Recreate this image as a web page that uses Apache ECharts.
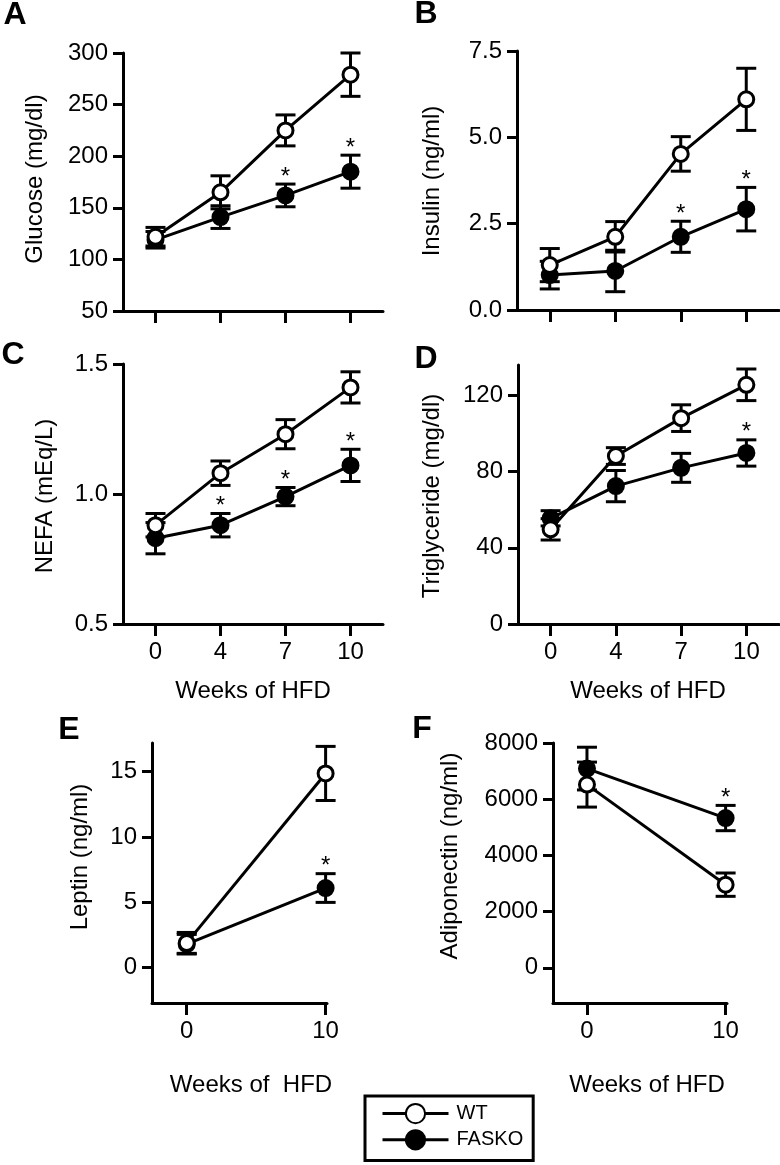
<!DOCTYPE html>
<html><head><meta charset="utf-8">
<script src="https://cdn.jsdelivr.net/npm/echarts@6/dist/echarts.min.js"></script>
<style>html,body{margin:0;padding:0;background:#fff}#c{width:780px;height:1165px}</style>
</head><body><div id="c"></div>
<script>
// ---- data ----
const weeks4 = ['0', '4', '7', '10'];
const weeks2 = [0, 10];
const seriesNames = ['WT', 'FASKO'];

const glucoseWT = [122, 165, 225, 279];
const glucoseWTErr = [9, 16, 15, 21];
const glucoseKO = [119, 141, 162, 185];
const glucoseKOErr = [8, 11, 11, 16];
const glucoseSig = [false, false, true, true];

const insulinWT = [1.30, 2.12, 4.52, 6.10];
const insulinWTErr = [0.48, 0.44, 0.50, 0.90];
const insulinKO = [1.01, 1.13, 2.12, 2.92];
const insulinKOErr = [0.40, 0.60, 0.45, 0.63];
const insulinSig = [false, false, true, true];

const nefaWT = [0.88, 1.08, 1.23, 1.41];
const nefaWTErr = [0.045, 0.047, 0.056, 0.06];
const nefaKO = [0.83, 0.88, 0.99, 1.11];
const nefaKOErr = [0.06, 0.045, 0.035, 0.062];
const nefaSig = [false, true, true, true];

const tgWT = [49.7, 88.2, 108.1, 125.6];
const tgWTErr = [5.6, 4.4, 7.0, 8.3];
const tgKO = [55.5, 72.4, 82.0, 89.8];
const tgKOErr = [4.0, 8.2, 7.6, 6.9];
const tgSig = [false, false, false, true];

const leptinWT = [1.9, 14.87];
const leptinWTErr = [0.8, 2.07];
const leptinKO = [1.8, 6.1];
const leptinKOErr = [0.75, 1.1];
const leptinSig = [false, true];

const adipoWT = [6520, 2960];
const adipoWTErr = [800, 415];
const adipoKO = [7090, 5330];
const adipoKOErr = [760, 450];
const adipoSig = [false, true];

const yTicksD = [0, 40, 80, 120];
const yTicksE = [0, 5, 10, 15];
const yTicksF = [0, 2000, 4000, 6000, 8000];

// ---- styling ----
const FONT = 'Liberation Sans, Arial, Helvetica, sans-serif';
const BLACK = '#000';
const FS = 24;

function axisLineStyle() { return { show: true, onZero: false, lineStyle: { color: BLACK, width: 3 } }; }

function catX(gi, showLabels) {
  return {
    type: 'category', gridIndex: gi, data: weeks4, boundaryGap: true,
    axisLine: axisLineStyle(),
    axisTick: { show: true, alignWithLabel: true, length: 12, interval: 0, lineStyle: { color: BLACK, width: 3 } },
    axisLabel: { show: showLabels, interval: 0, color: BLACK, fontSize: FS, fontFamily: FONT, margin: 16 },
    splitLine: { show: false }
  };
}
function valX(gi, min, max) {
  return {
    type: 'value', gridIndex: gi, min: min, max: max,
    axisLine: axisLineStyle(),
    axisTick: { show: true, length: 12, customValues: weeks2, lineStyle: { color: BLACK, width: 3 } },
    axisLabel: { customValues: weeks2, color: BLACK, fontSize: FS, fontFamily: FONT, margin: 16 },
    splitLine: { show: false }
  };
}
function valY(gi, min, max, interval, fmt, custom) {
  const ax = {
    type: 'value', gridIndex: gi, min: min, max: max,
    axisLine: axisLineStyle(),
    axisTick: { show: true, length: 10, lineStyle: { color: BLACK, width: 3 } },
    axisLabel: { color: BLACK, fontSize: FS, fontFamily: FONT, margin: 15, formatter: fmt || (v => String(v)) },
    splitLine: { show: false }
  };
  if (interval) ax.interval = interval;
  if (custom) { ax.axisTick.customValues = custom; ax.axisLabel.customValues = custom; }
  return ax;
}

const series = [];
function addPanel(gi, isCat, wt, wtErr, ko, koErr, sig) {
  const xs = isCat ? wt.map((_, i) => i) : weeks2;
  const errSeries = (name, vals, errs, z) => ({
    type: 'custom', name: name + ' err', xAxisIndex: gi, yAxisIndex: gi, z: z, silent: true,
    data: xs.map((x, i) => [x, vals[i], errs[i]]),
    renderItem: function (params, api) {
      const x = api.value(0), m = api.value(1), e = api.value(2);
      const t = api.coord([x, m + e]);
      const b = api.coord([x, m - e]);
      const hw = 10;
      const st = { stroke: BLACK, lineWidth: 3 };
      return { type: 'group', children: [
        { type: 'line', shape: { x1: t[0], y1: t[1], x2: b[0], y2: b[1] }, style: st },
        { type: 'line', shape: { x1: t[0] - hw, y1: t[1], x2: t[0] + hw, y2: t[1] }, style: st },
        { type: 'line', shape: { x1: b[0] - hw, y1: b[1], x2: b[0] + hw, y2: b[1] }, style: st }
      ] };
    }
  });
  const lineSeries = (name, vals, fill, z) => ({
    type: 'line', name: name, xAxisIndex: gi, yAxisIndex: gi, z: z,
    data: isCat ? vals.slice() : xs.map((x, i) => [x, vals[i]]),
    symbol: 'circle', symbolSize: 15, showAllSymbol: true,
    lineStyle: { color: BLACK, width: 3 },
    itemStyle: { color: fill, borderColor: BLACK, borderWidth: 3 },
    emphasis: { disabled: true }, animation: false
  });
  series.push(errSeries('FASKO', ko, koErr, 2));
  series.push(lineSeries('FASKO', ko, BLACK, 3));
  series.push(errSeries('WT', wt, wtErr, 4));
  series.push(lineSeries('WT', wt, '#fff', 5));
  const sigData = [];
  xs.forEach((x, i) => { if (sig[i]) sigData.push([x, ko[i] + koErr[i]]); });
  series.push({
    type: 'custom', name: 'sig', xAxisIndex: gi, yAxisIndex: gi, z: 6, silent: true,
    data: sigData,
    renderItem: function (params, api) {
      const p = api.coord([api.value(0), api.value(1)]);
      return { type: 'text', x: p[0], y: p[1] - 7,
        style: { text: '*', fill: BLACK, font: '24px ' + FONT, align: 'center', verticalAlign: 'middle' } };
    }
  });
}

addPanel(0, true, glucoseWT, glucoseWTErr, glucoseKO, glucoseKOErr, glucoseSig);
addPanel(1, true, insulinWT, insulinWTErr, insulinKO, insulinKOErr, insulinSig);
addPanel(2, true, nefaWT, nefaWTErr, nefaKO, nefaKOErr, nefaSig);
addPanel(3, true, tgWT, tgWTErr, tgKO, tgKOErr, tgSig);
addPanel(4, false, leptinWT, leptinWTErr, leptinKO, leptinKOErr, leptinSig);
addPanel(5, false, adipoWT, adipoWTErr, adipoKO, adipoKOErr, adipoSig);

function txt(s, x, y, size, bold, rot) {
  return { type: 'text', x: x, y: y, rotation: rot ? Math.PI / 2 : 0,
    style: { text: s, fill: BLACK, font: (bold ? 'bold ' : '') + size + 'px ' + FONT, align: 'center', verticalAlign: 'middle' } };
}

const option = {
  animation: false,
  backgroundColor: '#fff',
  grid: [
    { left: 123, top: 53, width: 260, height: 258 },
    { left: 517, top: 51, width: 262, height: 259 },
    { left: 123, top: 364, width: 260, height: 260 },
    { left: 518, top: 365, width: 261, height: 259 },
    { left: 152, top: 743, width: 175, height: 260 },
    { left: 553, top: 743, width: 174, height: 260 }
  ],
  xAxis: [catX(0, false), catX(1, false), catX(2, true), catX(3, true), valX(4, -2.5, 10.1), valX(5, -2.45, 10.1)],
  yAxis: [
    valY(0, 50, 300, 50),
    valY(1, 0, 7.5, 2.5, v => v.toFixed(1)),
    valY(2, 0.5, 1.5, 0.5, v => v.toFixed(1)),
    valY(3, 0, 136, null, null, yTicksD),
    valY(4, -2.7, 17.2, null, null, yTicksE),
    valY(5, -1250, 8000, null, null, yTicksF)
  ],
  legend: {
    data: seriesNames, orient: 'vertical', left: 365, top: 1096,
    padding: [7, 10, 10, 16], itemWidth: 66, itemHeight: 24, itemGap: 5,
    borderColor: BLACK, borderWidth: 3, selectedMode: false,
    lineStyle: { width: 3, color: BLACK },
    textStyle: { color: BLACK, fontSize: 20, fontFamily: FONT, padding: [0, 0, 0, 3] }
  },
  graphic: [
    txt('A', 15, 15, 32, true), txt('B', 426, 14, 32, true), txt('C', 13, 355, 32, true),
    txt('D', 426, 359, 32, true), txt('E', 69, 730, 32, true), txt('F', 422, 729, 32, true),
    txt('Glucose (mg/dl)', 35, 179, FS, false, true),
    txt('Insulin (ng/ml)', 432, 181, FS, false, true),
    txt('NEFA (mEq/L)', 45, 496, FS, false, true),
    txt('Triglyceride (mg/dl)', 432, 496, FS, false, true),
    txt('Leptin (ng/ml)', 80, 857, FS, false, true),
    txt('Adiponectin (ng/ml)', 450, 856, FS, false, true),
    txt('Weeks of HFD', 253, 691, FS),
    txt('Weeks of HFD', 648, 691, FS),
    txt('Weeks of  HFD', 251, 1085, FS),
    txt('Weeks of HFD', 647, 1085, FS)
  ],
  series: series
};
const chart = echarts.init(document.getElementById('c'), null, { renderer: 'canvas' });
chart.setOption(option);
</script>
</body></html>
